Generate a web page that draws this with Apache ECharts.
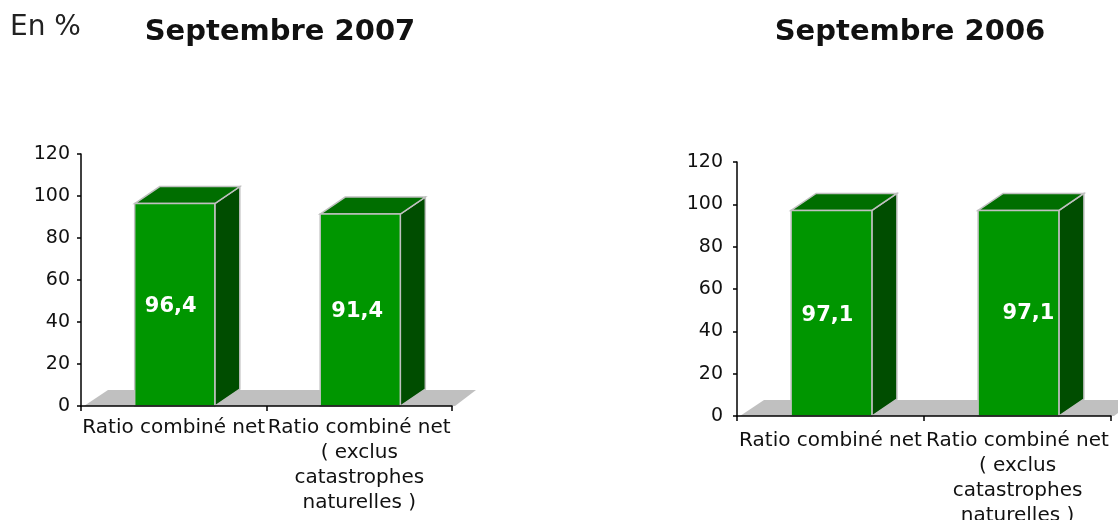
<!DOCTYPE html>
<html>
<head>
<meta charset="utf-8">
<title>Ratio combiné net</title>
<script src="https://cdn.jsdelivr.net/npm/echarts@6/dist/echarts.min.js"></script>
<style>
  html, body { margin: 0; padding: 0; background: #fff; }
  #chart { width: 1118px; height: 520px; }
</style>
</head>
<body>
<div id="chart"></div>
<script>
var categories = ['Ratio combiné net', 'Ratio combiné net\n( exclus\ncatastrophes\nnaturelles )'];
var values2007 = [96.4, 91.4];
var values2006 = [97.1, 97.1];
var yMin = 0;
var yMax = 120;
var yStep = 20;

var font_family = '"DejaVu Sans", sans-serif';
var depth_x = 25;
var depth_y = 17;
var bar_ratio = 0.432;

// the labels sit a little off centre in the original
var nudge2007 = [[-4, 2], [-3, 2]];
var nudge2006 = [[-4, 2], [10, 0]];

function renderFloor(params, api) {
  var r = params.coordSys;
  var bottom = r.y + r.height;
  return {
    type: 'polygon',
    shape: {
      points: [
        [r.x + 3, bottom],
        [r.x + 3 + 24, bottom - 16],
        [r.x + r.width + 24, bottom - 16],
        [r.x + r.width + 3, bottom]
      ]
    },
    style: { fill: '#c0c0c0' }
  };
}

function makeRenderBar(nudges) {
  return function (params, api) {
    var top = api.coord([api.value(0), api.value(1)]);
    var base = api.coord([api.value(0), yMin]);
    var w = api.size([1, 0])[0] * bar_ratio;
    var x0 = top[0] - w / 2 + 1;
    var x1 = x0 + w;
    var y0 = top[1];
    var y1 = base[1];
    var edge = { stroke: '#c0c0c0', lineWidth: 1.5 };
    var nudge = nudges[params.dataIndex];
    return {
      type: 'group',
      children: [
        {
          type: 'polygon',
          shape: { points: [[x1, y1], [x1 + depth_x, y1 - depth_y], [x1 + depth_x, y0 - depth_y], [x1, y0]] },
          style: Object.assign({ fill: '#004d00' }, edge)
        },
        {
          type: 'polygon',
          shape: { points: [[x0, y0], [x0 + depth_x, y0 - depth_y], [x1 + depth_x, y0 - depth_y], [x1, y0]] },
          style: Object.assign({ fill: '#006e00' }, edge)
        },
        {
          type: 'rect',
          shape: { x: x0, y: y0, width: w, height: y1 - y0 },
          style: Object.assign({ fill: '#009600' }, edge)
        },
        {
          type: 'text',
          z2: 10,
          style: {
            text: String(api.value(1)).replace('.', ','),
            x: (x0 + x1) / 2 + nudge[0],
            y: (y0 + y1) / 2 + nudge[1],
            fill: '#ffffff',
            font: 'bold 21px ' + font_family,
            align: 'center',
            verticalAlign: 'middle'
          }
        }
      ]
    };
  };
}

function makeSeries(index, values, nudges) {
  return [
    {
      type: 'custom',
      xAxisIndex: index,
      yAxisIndex: index,
      z: 1,
      silent: true,
      renderItem: renderFloor,
      encode: { x: 0, y: 1 },
      data: [[0, yMin]]
    },
    {
      type: 'custom',
      xAxisIndex: index,
      yAxisIndex: index,
      z: 2,
      renderItem: makeRenderBar(nudges),
      encode: { x: 0, y: 1 },
      data: values.map(function (v, i) { return [i, v]; })
    }
  ];
}

function makeXAxis(index, margin) {
  return {
    type: 'category',
    gridIndex: index,
    data: categories,
    z: 5,
    axisLine: { lineStyle: { color: '#000', width: 1.5 } },
    axisTick: { show: true, alignWithLabel: false, length: 5, lineStyle: { color: '#000', width: 1.5 } },
    axisLabel: {
      interval: 0,
      hideOverlap: false,
      margin: margin,
      color: '#111',
      fontFamily: font_family,
      fontSize: 20,
      lineHeight: 25
    }
  };
}

function makeYAxis(index, margin) {
  return {
    type: 'value',
    gridIndex: index,
    min: yMin,
    max: yMax,
    interval: yStep,
    z: 5,
    splitLine: { show: false },
    axisLine: { show: true, lineStyle: { color: '#000', width: 1.5 } },
    axisTick: { show: true, length: 4, lineStyle: { color: '#000', width: 1.5 } },
    axisLabel: {
      margin: margin,
      color: '#111',
      fontFamily: font_family,
      fontSize: 19
    }
  };
}

var title_style = { fontFamily: font_family, fontSize: 29, fontWeight: 'bold', color: '#111' };

var myChart = echarts.init(document.getElementById('chart'), null, { renderer: 'canvas' });
myChart.setOption({
  animation: false,
  backgroundColor: '#ffffff',
  title: [
    { text: 'En %', left: 5, top: 9, textStyle: { fontFamily: font_family, fontSize: 28, fontWeight: 'normal', color: '#222' } },
    { text: 'Septembre 2007', left: 275, top: 13, textAlign: 'center', textStyle: title_style },
    { text: 'Septembre 2006', left: 905, top: 13, textAlign: 'center', textStyle: title_style }
  ],
  grid: [
    { left: 81, top: 154, width: 371, height: 252, outerBoundsMode: 'none' },
    { left: 737, top: 162, width: 374, height: 254, outerBoundsMode: 'none' }
  ],
  xAxis: [makeXAxis(0, 9), makeXAxis(1, 12)],
  yAxis: [makeYAxis(0, 11), makeYAxis(1, 14)],
  series: makeSeries(0, values2007, nudge2007).concat(makeSeries(1, values2006, nudge2006))
});
</script>
</body>
</html>
